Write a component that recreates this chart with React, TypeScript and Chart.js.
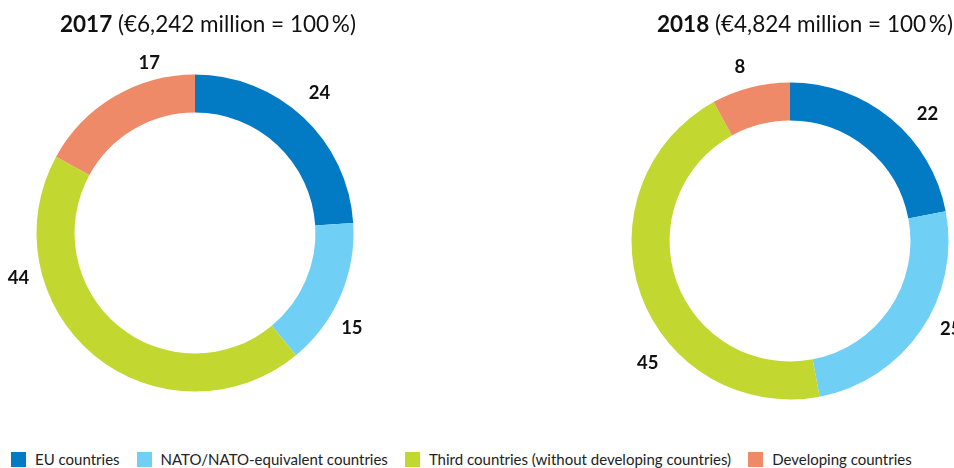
import React, { useEffect, useRef } from "react";
import { Chart, registerables } from "chart.js";

Chart.register(...registerables);

// ---- data ----
const categories = [
  "EU countries",
  "NATO/NATO-equivalent countries",
  "Third countries (without developing countries)",
  "Developing countries",
];
const colors = ["#037bc4", "#6fcff5", "#c2d830", "#ee8a67"];
const years = ["2017", "2018"];
const totalsText = ["(€6,242 million = 100\u2009%)", "(€4,824 million = 100\u2009%)"];
const values2017 = [24, 15, 44, 17];
const values2018 = [22, 25, 45, 8];

// label placement (degrees clockwise from top, distance from centre in px)
const labelAngles2017 = [41.5, 121, 256, 345];
const labelDists2017 = [188, 183, 182, 177];
const labelAngles2018 = [47, 118.5, 229.5, 344];
const labelDists2018 = [188, 183, 187, 182];

const FONT = "Lato, 'Noto Sans', sans-serif";

const valueLabels = {
  id: "valueLabels",
  afterDatasetsDraw(chart: any, _args: any, opts: any) {
    const { ctx } = chart;
    const meta = chart.getDatasetMeta(0);
    const ds = chart.data.datasets[0];
    ctx.save();
    ctx.font = `bold 18.5px ${FONT}`;
    ctx.fillStyle = "#111111";
    ctx.textAlign = "center";
    ctx.textBaseline = "middle";
    meta.data.forEach((arc: any, i: number) => {
      const { x, y } = arc.getProps(["x", "y"], true);
      const a = (opts.angles[i] * Math.PI) / 180;
      const d = opts.dists[i];
      ctx.fillText(String(ds.data[i]), x + d * Math.sin(a), y - d * Math.cos(a) + 1);
    });
    ctx.restore();
  },
};

function Donut(props: {
  values: number[];
  angles: number[];
  dists: number[];
  left: number;
  top: number;
}) {
  const ref = useRef<HTMLCanvasElement>(null);
  useEffect(() => {
    if (!ref.current) return;
    const chart = new Chart(ref.current, {
      type: "doughnut",
      data: {
        labels: categories,
        datasets: [
          {
            data: props.values,
            backgroundColor: colors,
            borderWidth: 0,
          },
        ],
      },
      options: {
        responsive: false,
        animation: false,
        radius: 158.5,
        cutout: "76%",
        layout: { padding: 0 },
        plugins: {
          legend: { display: false },
          tooltip: { enabled: false },
          valueLabels: { angles: props.angles, dists: props.dists },
        } as any,
      } as any,
      plugins: [valueLabels as any],
    });
    return () => chart.destroy();
  }, []);
  return (
    <canvas
      ref={ref}
      width={400}
      height={400}
      style={{ position: "absolute", left: props.left, top: props.top, width: 400, height: 400 }}
    />
  );
}

export default function App() {
  return (
    <div
      style={{
        position: "fixed",
        left: 0,
        top: 0,
        width: 954,
        height: 468,
        overflow: "hidden",
        background: "#ffffff",
        fontFamily: FONT,
        color: "#111111",
      }}
    >
      <Donut values={values2017} angles={labelAngles2017} dists={labelDists2017} left={-5.5} top={32.5} />
      <Donut values={values2018} angles={labelAngles2018} dists={labelDists2018} left={590} top={41} />
      <div style={{ position: "absolute", left: 60, top: 10, fontSize: 22.5, lineHeight: "28px", whiteSpace: "nowrap" }}>
        <b>{years[0]}</b> {totalsText[0]}
      </div>
      <div style={{ position: "absolute", left: 657, top: 10, fontSize: 22.5, lineHeight: "28px", whiteSpace: "nowrap" }}>
        <b>{years[1]}</b> {totalsText[1]}
      </div>
      <div
        style={{
          position: "absolute",
          left: 11,
          top: 452,
          display: "flex",
          alignItems: "center",
          fontSize: 15,
          lineHeight: "15px",
          whiteSpace: "nowrap",
          color: "#222222",
        }}
      >
        {categories.map((c, i) => (
          <div key={c} style={{ display: "flex", alignItems: "center", marginRight: 17 }}>
            <span style={{ display: "inline-block", width: 15, height: 15, background: colors[i], marginRight: 9 }} />
            <span>{c}</span>
          </div>
        ))}
      </div>
    </div>
  );
}
